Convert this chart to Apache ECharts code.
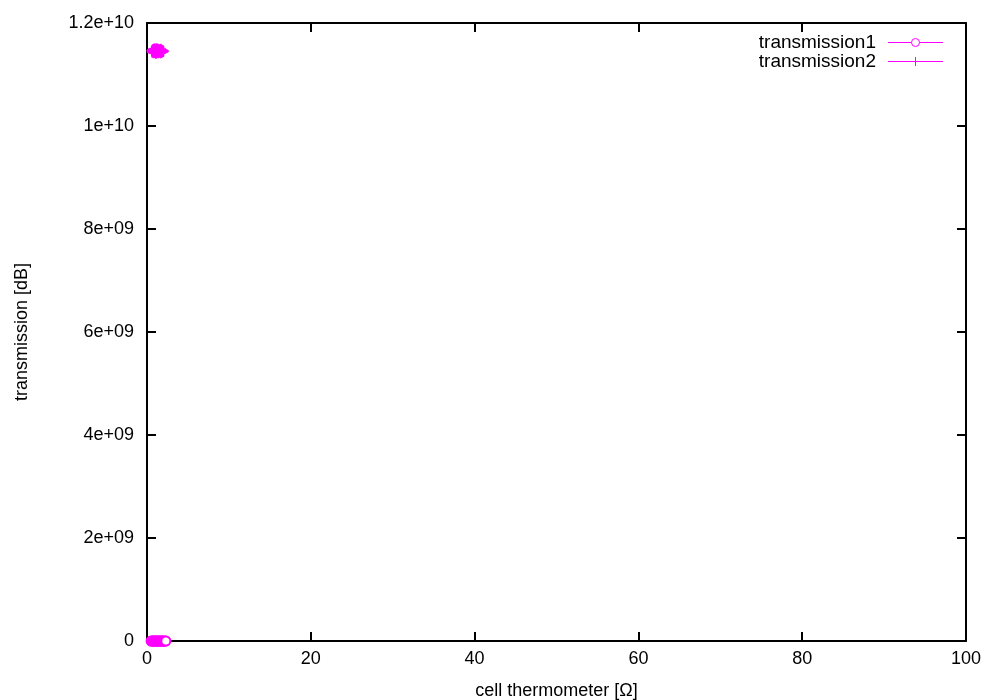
<!DOCTYPE html>
<html>
<head>
<meta charset="utf-8">
<script src="https://cdn.jsdelivr.net/npm/echarts@6/dist/echarts.min.js"></script>
<style>
  html, body { margin: 0; padding: 0; background: #fff; }
  #chart { width: 1000px; height: 700px; }
</style>
</head>
<body>
<div id="chart"></div>
<script>
// transmission1: circles sitting at ~0
const t1X = [0.5, 0.6, 0.7, 0.8, 0.9, 1.0, 1.1, 1.2, 1.3, 1.4, 1.5, 1.6, 1.7, 1.8, 1.9, 2.0, 2.1, 2.2, 2.3];
const t1Y = [0, 0, 0, 0, 0, 0, 0, 0, 0, 0, 0, 0, 0, 0, 0, 0, 0, 0, 0];
// transmission2: pluses around 1.145e10
const t2X = [0.6, 0.65, 0.7, 0.75, 0.8, 0.85, 0.9, 0.95, 1.0, 1.05, 1.1, 1.15, 1.2, 1.25, 1.3, 1.35,
             1.4, 1.45, 1.5, 1.55, 1.6, 1.65, 1.7, 1.75, 1.8, 1.85, 1.9, 1.95, 2.0];
const t2Y = [1.146e10, 1.143e10, 1.148e10, 1.145e10, 1.149e10, 1.142e10, 1.147e10, 1.150e10,
             1.144e10, 1.148e10, 1.141e10, 1.146e10, 1.150e10, 1.143e10, 1.147e10, 1.149e10,
             1.142e10, 1.146e10, 1.148e10, 1.144e10, 1.147e10, 1.142e10, 1.149e10, 1.145e10,
             1.143e10, 1.147e10, 1.144e10, 1.146e10, 1.145e10];
const t2XErr = 0.3;
const xTicks = [0, 20, 40, 60, 80, 100];
const yTicks = ['0', '2e+09', '4e+09', '6e+09', '8e+09', '1e+10', '1.2e+10'];
const keyNames = ['transmission1', 'transmission2'];

const PINK = '#ff00ff';
const FONT = 'Liberation Sans';

const chart = echarts.init(document.getElementById('chart'), null, { renderer: 'canvas' });

const fmtY = v => yTicks[Math.round(v / 2e9)] || '';
const plusPath = 'path://M0,4.5h10v1h-10z M4.5,0h1v10h-1z';

const boxAxis = {
  axisLine: { show: true, onZero: false, lineStyle: { color: '#000', width: 2 } },
  axisTick: { show: true, inside: true, length: 9, lineStyle: { color: '#000', width: 2 } },
  splitLine: { show: false }
};

// gnuplot style key, top right: text, then a line sample with the point in the middle
const keyRows = [42.5, 61.5];
const key = [];
keyNames.forEach((name, i) => {
  const y = keyRows[i];
  key.push({ type: 'text', x: 876, y: y, style: { text: name, align: 'right', verticalAlign: 'middle',
    font: '19px "Liberation Sans"', fill: '#000' } });
  key.push({ type: 'line', shape: { x1: 888, y1: y, x2: 943, y2: y }, style: { stroke: PINK, lineWidth: 1 } });
});
key.push({ type: 'circle', shape: { cx: 915.5, cy: keyRows[0], r: 4 }, style: { fill: '#fff', stroke: PINK, lineWidth: 1 } });
key.push({ type: 'line', shape: { x1: 915.5, y1: keyRows[1] - 4.5, x2: 915.5, y2: keyRows[1] + 4.5 }, style: { stroke: PINK, lineWidth: 1 } });

chart.setOption({
  animation: false,
  backgroundColor: '#fff',
  color: [PINK],
  textStyle: { fontFamily: FONT, color: '#000' },
  grid: { left: 147, right: 34, top: 23, bottom: 59, outerBoundsMode: 'none', containLabel: false },
  graphic: key,
  xAxis: [
    Object.assign({
      type: 'value', min: 0, max: 100, interval: 20, position: 'bottom',
      name: 'cell thermometer [Ω]', nameLocation: 'middle', nameGap: 41,
      nameTextStyle: { fontFamily: FONT, fontSize: 18, color: '#000' },
      axisLabel: { margin: 9, fontFamily: FONT, fontSize: 18, color: '#000',
        formatter: v => xTicks.indexOf(v) >= 0 ? String(v) : '' }
    }, boxAxis),
    Object.assign({
      type: 'value', min: 0, max: 100, interval: 20, position: 'top',
      axisLabel: { show: false }
    }, boxAxis)
  ],
  yAxis: [
    Object.assign({
      type: 'value', min: 0, max: 1.2e10, interval: 2e9, position: 'left',
      name: 'transmission [dB]', nameLocation: 'middle', nameGap: 116,
      nameTextStyle: { fontFamily: FONT, fontSize: 18, color: '#000' },
      axisLabel: { margin: 13, fontFamily: FONT, fontSize: 18, color: '#000', formatter: fmtY }
    }, boxAxis),
    Object.assign({
      type: 'value', min: 0, max: 1.2e10, interval: 2e9, position: 'right',
      axisLabel: { show: false }
    }, boxAxis)
  ],
  series: [
    {
      name: 'transmission2-err',
      type: 'custom',
      silent: true,
      data: t2X.map((x, i) => [x, t2Y[i]]),
      renderItem: (params, api) => {
        const a = api.coord([api.value(0) - t2XErr, api.value(1)]);
        const b = api.coord([api.value(0) + t2XErr, api.value(1)]);
        return {
          type: 'line',
          shape: { x1: a[0], y1: a[1], x2: b[0], y2: b[1] },
          style: { stroke: PINK, lineWidth: 1 }
        };
      },
      z: 1
    },
    {
      name: 'transmission1',
      type: 'line',
      color: PINK,
      data: t1X.map((x, i) => [x, t1Y[i]]),
      symbol: 'emptyCircle',
      symbolSize: 9,
      showAllSymbol: true,
      lineStyle: { width: 0, color: PINK },
      itemStyle: { color: PINK, borderColor: PINK, borderWidth: 1 },
      z: 2
    },
    {
      name: 'transmission2',
      type: 'line',
      color: PINK,
      data: t2X.map((x, i) => [x, t2Y[i]]),
      symbol: plusPath,
      symbolSize: 10,
      showAllSymbol: true,
      lineStyle: { width: 0, color: PINK },
      itemStyle: { color: PINK, borderColor: PINK },
      z: 2
    }
  ]
});
</script>
</body>
</html>
